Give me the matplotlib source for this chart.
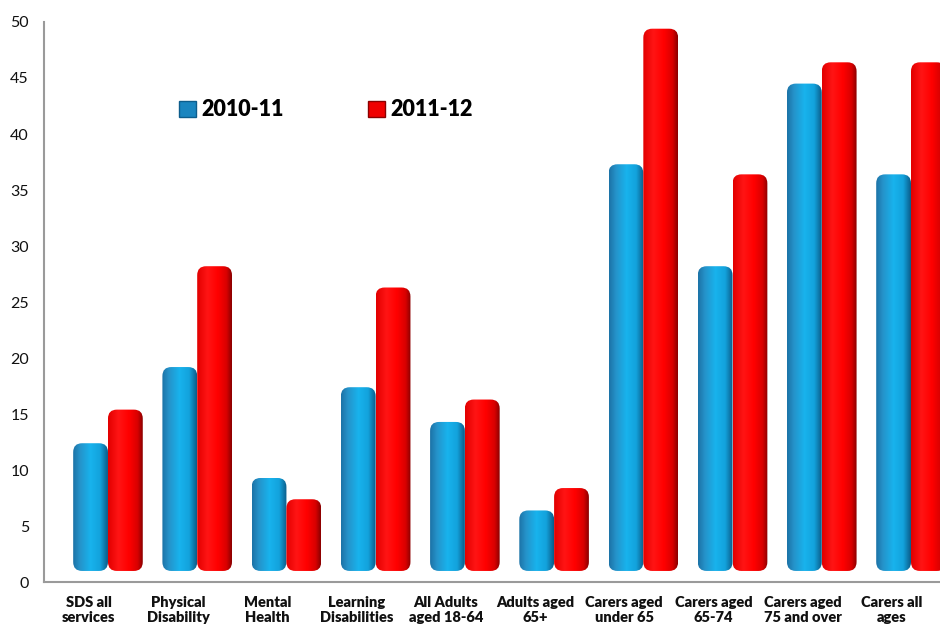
import numpy as np
import matplotlib
matplotlib.use("Agg")
import matplotlib.pyplot as plt
from matplotlib.patches import FancyBboxPatch, Patch
from matplotlib.colors import LinearSegmentedColormap

categories = ["SDS all\nservices", "Physical\nDisability", "Mental\nHealth",
              "Learning\nDisabilities", "All Adults\naged 18-64", "Adults aged\n65+",
              "Carers aged\nunder 65", "Carers aged\n65-74", "Carers aged\n75 and over",
              "Carers all\nages"]
series = ["2010-11", "2011-12"]
y2010 = [11.4, 18.2, 8.3, 16.4, 13.3, 5.4, 36.3, 27.2, 43.5, 35.4]
y2011 = [14.4, 27.2, 6.4, 25.3, 15.3, 7.4, 48.4, 35.4, 45.4, 45.4]
yticks = list(range(0, 51, 5))

plt.rcParams['font.family'] = ['Lato', 'DejaVu Sans']

# horizontal shading to fake the cylinder look
blue_cmap = LinearSegmentedColormap.from_list(
    'blue_cyl', [(0, '#1c72a6'), (0.2, '#2593ca'), (0.5, '#18b3ed'),
                 (0.78, '#13a2dc'), (1, '#0b5b88')])
red_cmap = LinearSegmentedColormap.from_list(
    'red_cyl', [(0, '#e20000'), (0.3, '#ff1414'), (0.6, '#ff0000'),
                (0.85, '#d80000'), (1, '#880000')])

fig = plt.figure(figsize=(9.4, 6.28), dpi=100)
ax = fig.add_axes([0.047, 0.073, 0.953, 0.892])

x = np.arange(len(categories))
w = 0.39
floor = 1.0
bars_a = ax.bar(x + 0.02, y2010, w, bottom=floor, color='none', linewidth=0)
bars_b = ax.bar(x + 0.41, y2011, w, bottom=floor, color='none', linewidth=0)

ax.set_xlim(-0.5, 9.54)
ax.set_ylim(0, 50)

# ratio of pixels per x unit to pixels per y unit, keeps the caps round
p = ax.transData.transform([(0, 0), (1, 1)])
asp = (p[1][0] - p[0][0]) / (p[1][1] - p[0][1])

grad = np.linspace(0, 1, 256).reshape(1, -1)


def cylinder(bar, cmap):
    x0, y0 = bar.get_x(), bar.get_y()
    bw, bh = bar.get_width(), bar.get_height()
    patch = FancyBboxPatch((x0, y0), bw, bh,
                           boxstyle="round,pad=0,rounding_size=0.1",
                           mutation_aspect=asp, facecolor='none',
                           edgecolor='none', transform=ax.transData)
    ax.add_patch(patch)
    im = ax.imshow(grad, cmap=cmap, extent=(x0, x0 + bw, y0, y0 + bh),
                   aspect='auto', interpolation='bilinear', zorder=2)
    im.set_clip_path(patch)


for b in bars_a:
    cylinder(b, blue_cmap)
for b in bars_b:
    cylinder(b, red_cmap)

ax.set_xlim(-0.5, 9.54)
ax.set_ylim(0, 50)
ax.set_yticks(yticks)
ax.set_xticks(x)
ax.set_xticklabels(categories, fontweight='heavy', fontsize=10.5, linespacing=1.2)
ax.tick_params(axis='y', length=0, pad=11, labelsize=11.5, colors='#111111')
ax.tick_params(axis='x', length=0, pad=10, colors='#111111')

for s in ['top', 'right']:
    ax.spines[s].set_visible(False)
for s in ['left', 'bottom']:
    ax.spines[s].set_color('#9a9a9a')
    ax.spines[s].set_linewidth(1.5)

handles = [Patch(facecolor='#1a85bf', edgecolor='#0d5d8c', linewidth=1),
           Patch(facecolor='#f00000', edgecolor='#8a0000', linewidth=1)]
fig.legend(handles, series, loc='center left', bbox_to_anchor=(168 / 940, 1 - 110 / 628),
           ncol=2, frameon=False, borderpad=0, handlelength=0.8, handleheight=0.8,
           handletextpad=0.25, columnspacing=3.9,
           prop={'weight': 'heavy', 'size': 15.5})

fig.savefig('out.png', dpi=100)
